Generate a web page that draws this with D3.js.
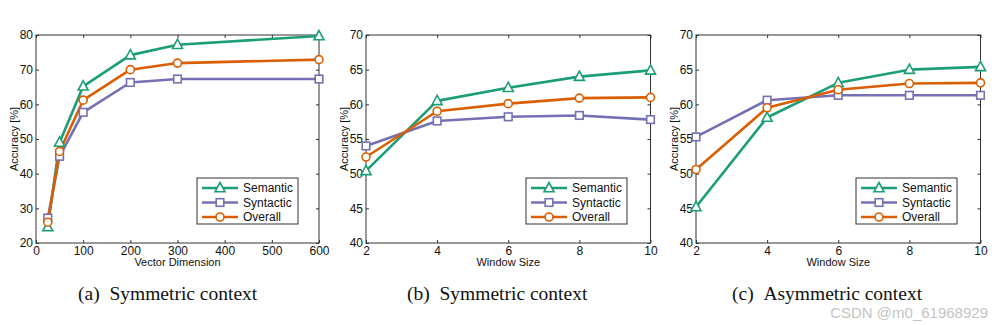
<!DOCTYPE html>
<html><head><meta charset="utf-8">
<script src="https://cdn.jsdelivr.net/npm/d3@7"></script>
<style>body{margin:0;background:#fff}svg{display:block}</style>
</head><body><svg id="c" width="1005" height="325"></svg>
<script>
// ---- data ----
const seriesNames = ["Semantic", "Syntactic", "Overall"];
const dims = [25, 50, 100, 200, 300, 600];
const semA = [24.6, 49.0, 65.2, 74.2, 77.2, 79.7];
const synA = [27.2, 45.0, 57.7, 66.3, 67.3, 67.3];
const ovA  = [26.0, 46.4, 61.2, 70.0, 71.9, 72.9];
const windows = [2, 4, 6, 8, 10];
const semB = [50.4, 60.5, 62.4, 64.0, 64.9];
const synB = [54.0, 57.6, 58.2, 58.4, 57.8];
const ovB  = [52.4, 59.0, 60.1, 60.9, 61.0];
const semC = [45.2, 58.1, 63.1, 65.0, 65.4];
const synC = [55.3, 60.6, 61.3, 61.3, 61.3];
const ovC  = [50.6, 59.5, 62.1, 63.0, 63.1];
const xTicksA = [0, 100, 200, 300, 400, 500, 600];
const yTicksA = [20, 30, 40, 50, 60, 70, 80];
const xTicksW = [2, 4, 6, 8, 10];
const yTicksW = [40, 45, 50, 55, 60, 65, 70];
const xLabels = ["Vector Dimension", "Window Size", "Window Size"];
const yLabel = "Accuracy [%]";
const captions = ["(a)\u00A0\u00A0Symmetric context", "(b)\u00A0\u00A0Symmetric context", "(c)\u00A0\u00A0Asymmetric context"];
const watermark = "CSDN @m0_61968929";

// ---- style ----
const colors = ["#1b9e77", "#7570b3", "#d95f02"];
const svg = d3.select("#c");
const sans = "Liberation Sans, Arial, Helvetica, sans-serif";

const panels = [
  {x0: 36, x1: 319, xDom: [0, 600], yDom: [20, 80], xT: xTicksA, yT: yTicksA, xs: dims, ys: [semA, synA, ovA], legX: 197, cap: 78},
  {x0: 366, x1: 650.5, xDom: [2, 10], yDom: [40, 70], xT: xTicksW, yT: yTicksW, xs: windows, ys: [semB, synB, ovB], legX: 526, cap: 407},
  {x0: 696, x1: 980.5, xDom: [2, 10], yDom: [40, 70], xT: xTicksW, yT: yTicksW, xs: windows, ys: [semC, synC, ovC], legX: 856, cap: 732}
];
const plotTop = 35, plotBot = 243;

function marker(g, kind, cx, cy, col) {
  if (kind === 0) {
    const s = 5;
    g.append("path").attr("d", `M${cx},${cy - s - 0.5}L${cx + s},${cy + s * 0.75}L${cx - s},${cy + s * 0.75}Z`)
      .attr("fill", "#fff").attr("stroke", col).attr("stroke-width", 1.6);
  } else if (kind === 1) {
    g.append("rect").attr("x", cx - 3.8).attr("y", cy - 3.8).attr("width", 7.6).attr("height", 7.6)
      .attr("fill", "#fff").attr("stroke", col).attr("stroke-width", 1.6);
  } else {
    g.append("circle").attr("cx", cx).attr("cy", cy).attr("r", 4)
      .attr("fill", "#fff").attr("stroke", col).attr("stroke-width", 1.6);
  }
}

panels.forEach((p, pi) => {
  const x = d3.scaleLinear().domain(p.xDom).range([p.x0, p.x1]);
  const y = d3.scaleLinear().domain(p.yDom).range([plotBot, plotTop]);
  const g = svg.append("g");
  g.append("rect").attr("x", p.x0).attr("y", plotTop).attr("width", p.x1 - p.x0).attr("height", plotBot - plotTop)
    .attr("fill", "#fff");

  const ax = (sel) => { sel.select(".domain").remove(); sel.selectAll("line").attr("stroke", "#333"); sel.selectAll("text").attr("font-family", sans).attr("font-size", 12).attr("fill", "#111"); };
  g.append("g").attr("transform", `translate(0,${plotBot})`)
    .call(d3.axisBottom(x).tickValues(p.xT).tickSizeInner(-3).tickSizeOuter(0).tickPadding(3)).call(ax);
  g.append("g").attr("transform", `translate(0,${plotTop})`)
    .call(d3.axisTop(x).tickValues(p.xT).tickSizeInner(-3).tickSizeOuter(0).tickFormat("")).call(ax);
  g.append("g").attr("transform", `translate(${p.x0},0)`)
    .call(d3.axisLeft(y).tickValues(p.yT).tickSizeInner(-3).tickSizeOuter(0).tickPadding(3)).call(ax);
  g.append("g").attr("transform", `translate(${p.x1},0)`)
    .call(d3.axisRight(y).tickValues(p.yT).tickSizeInner(-3).tickSizeOuter(0).tickFormat("")).call(ax);
  g.append("rect").attr("x", p.x0).attr("y", plotTop).attr("width", p.x1 - p.x0).attr("height", plotBot - plotTop)
    .attr("fill", "none").attr("stroke", "#333").attr("stroke-width", 1);

  const line = d3.line().x(d => x(d[0])).y(d => y(d[1]));
  p.ys.forEach((vals, si) => {
    const pts = p.xs.map((v, i) => [v, vals[i]]);
    g.append("path").attr("d", line(pts)).attr("fill", "none").attr("stroke", colors[si]).attr("stroke-width", 2.6)
      .attr("stroke-linejoin", "round");
  });
  p.ys.forEach((vals, si) => {
    p.xs.forEach((v, i) => marker(g, si, x(v), y(vals[i]), colors[si]));
  });

  // axis labels
  g.append("text").attr("x", (p.x0 + p.x1) / 2).attr("y", 266).attr("text-anchor", "middle")
    .attr("font-family", sans).attr("font-size", 11).attr("fill", "#111").text(xLabels[pi]);
  g.append("text").attr("transform", `translate(${p.x0 - 18.5},${(plotTop + plotBot) / 2}) rotate(-90)`).attr("text-anchor", "middle")
    .attr("font-family", sans).attr("font-size", 11).attr("fill", "#111").text(yLabel);

  // legend
  const lg = g.append("g").attr("transform", `translate(${p.legX},178)`);
  lg.append("rect").attr("width", 101).attr("height", 46).attr("fill", "#fff").attr("stroke", "#333").attr("stroke-width", 1);
  seriesNames.forEach((n, si) => {
    const yy = 10 + si * 14.5;
    lg.append("line").attr("x1", 5).attr("x2", 41).attr("y1", yy).attr("y2", yy).attr("stroke", colors[si]).attr("stroke-width", 2.6);
    marker(lg, si, 23, yy, colors[si]);
    lg.append("text").attr("x", 46).attr("y", yy + 4.2).attr("font-family", sans).attr("font-size", 12).attr("fill", "#111").text(n);
  });

  // caption
  svg.append("text").attr("x", p.cap).attr("y", 300).attr("font-family", "Liberation Serif, Times New Roman, serif")
    .attr("font-size", 19.5).attr("fill", "#111").text(captions[pi]);
});

svg.append("text").attr("x", 988).attr("y", 318).attr("text-anchor", "end").attr("font-family", sans)
  .attr("font-size", 15).attr("fill", "#c4c4c4").text(watermark);
</script></body></html>
